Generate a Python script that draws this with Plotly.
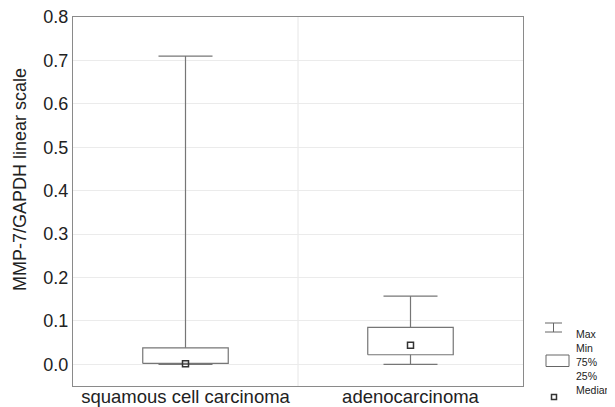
import plotly.graph_objects as go

categories = ["squamous cell carcinoma", "adenocarcinoma"]
q_min = [0.0, 0.0]
q1 = [0.002, 0.022]
median = [0.001, 0.044]
q3 = [0.038, 0.085]
q_max = [0.71, 0.157]
y_ticks = [0.0, 0.1, 0.2, 0.3, 0.4, 0.5, 0.6, 0.7, 0.8]

BOX_HALF = 0.19
CAP_HALF = 0.12
LINE = "#767676"

# page has an 8px body margin; target plot area in page px: x 73..523, y 17..386
OFF = 8
W, H = 615 - OFF, 407 - OFF
ML, MR, MT, MB = 73 - OFF, 92, 17 - OFF, 21
PW, PH = W - ML - MR, H - MT - MB

fig = go.Figure()
for i, _ in enumerate(categories):
    fig.add_trace(go.Scatter(
        x=[i - BOX_HALF, i + BOX_HALF, i + BOX_HALF, i - BOX_HALF, i - BOX_HALF],
        y=[q1[i], q1[i], q3[i], q3[i], q1[i]],
        mode="lines", line=dict(color=LINE, width=1.2), hoverinfo="skip", showlegend=False))
    fig.add_trace(go.Scatter(
        x=[i, i, None, i, i, None, i - CAP_HALF, i + CAP_HALF, None, i - CAP_HALF, i + CAP_HALF],
        y=[q3[i], q_max[i], None, q_min[i], q1[i], None, q_max[i], q_max[i], None, q_min[i], q_min[i]],
        mode="lines", line=dict(color=LINE, width=1.2), hoverinfo="skip", showlegend=False))

fig.add_trace(go.Scatter(
    x=list(range(len(categories))), y=median, mode="markers",
    marker=dict(symbol="square-open", size=6, color="#333", line=dict(width=1.5)),
    showlegend=False))

fig.add_shape(type="line", x0=0.5, x1=0.5, y0=-0.05, y1=0.8, xref="x", yref="y",
              line=dict(color="#e6e6e6", width=1), layer="below")

# helpers: page pixel -> paper fraction
def px(v):
    return (v - OFF - ML) / PW
def py(v):
    return (H - MB - (v - OFF)) / PH

LC = "#666"
fig.add_shape(type="line", xref="paper", yref="paper", x0=px(545), x1=px(562), y0=py(323), y1=py(323), line=dict(color=LC, width=1))
fig.add_shape(type="line", xref="paper", yref="paper", x0=px(545), x1=px(562), y0=py(332), y1=py(332), line=dict(color=LC, width=1))
fig.add_shape(type="line", xref="paper", yref="paper", x0=px(553.5), x1=px(553.5), y0=py(323), y1=py(332), line=dict(color=LC, width=1))
fig.add_shape(type="rect", xref="paper", yref="paper", x0=px(546), x1=px(569), y0=py(355), y1=py(366.5), line=dict(color=LC, width=1))
fig.add_shape(type="rect", xref="paper", yref="paper", x0=px(551.5), x1=px(556.5), y0=py(394.5), y1=py(399.5), line=dict(color="#333", width=1.5))
for txt, yy in [("Max", 334), ("Min", 348), ("75%", 362), ("25%", 376), ("Median", 390)]:
    fig.add_annotation(text=txt, xref="paper", yref="paper", x=px(574), y=py(yy),
                       xanchor="left", yanchor="middle", showarrow=False,
                       font=dict(size=10.5, color="#222"))

# y-axis title (placed as in reference, slightly above plot centre)
fig.add_annotation(text="MMP-7/GAPDH linear scale", xref="paper", yref="paper",
                   x=px(20), y=py(180), textangle=-90, showarrow=False,
                   xanchor="center", yanchor="middle", font=dict(size=18, color="#222"))

fig.update_layout(
    width=W, height=H,
    margin=dict(l=ML, r=MR, t=MT, b=MB, autoexpand=False),
    paper_bgcolor="white", plot_bgcolor="white",
    font=dict(family="Liberation Sans, Arial, sans-serif", size=18, color="#222"),
    xaxis=dict(range=[-0.5, 1.5], tickvals=[0, 1], ticktext=categories, automargin=False,
               showgrid=False, zeroline=False, showline=True, mirror=True,
               linecolor="#8a8a8a", linewidth=1, ticks="", tickfont=dict(size=18.5),
               ticklabelstandoff=-6, ticklabeloverflow="allow"),
    yaxis=dict(range=[-0.05, 0.8], tickvals=y_ticks, ticktext=[f"{v:.1f}" for v in y_ticks],
               automargin=False, ticklabeloverflow="allow",
               showgrid=True, gridcolor="#ebebeb", gridwidth=1, zeroline=False,
               showline=True, mirror=True, linecolor="#8a8a8a", linewidth=1,
               ticks="", tickfont=dict(size=18)),
)

fig.write_html("out.html")
